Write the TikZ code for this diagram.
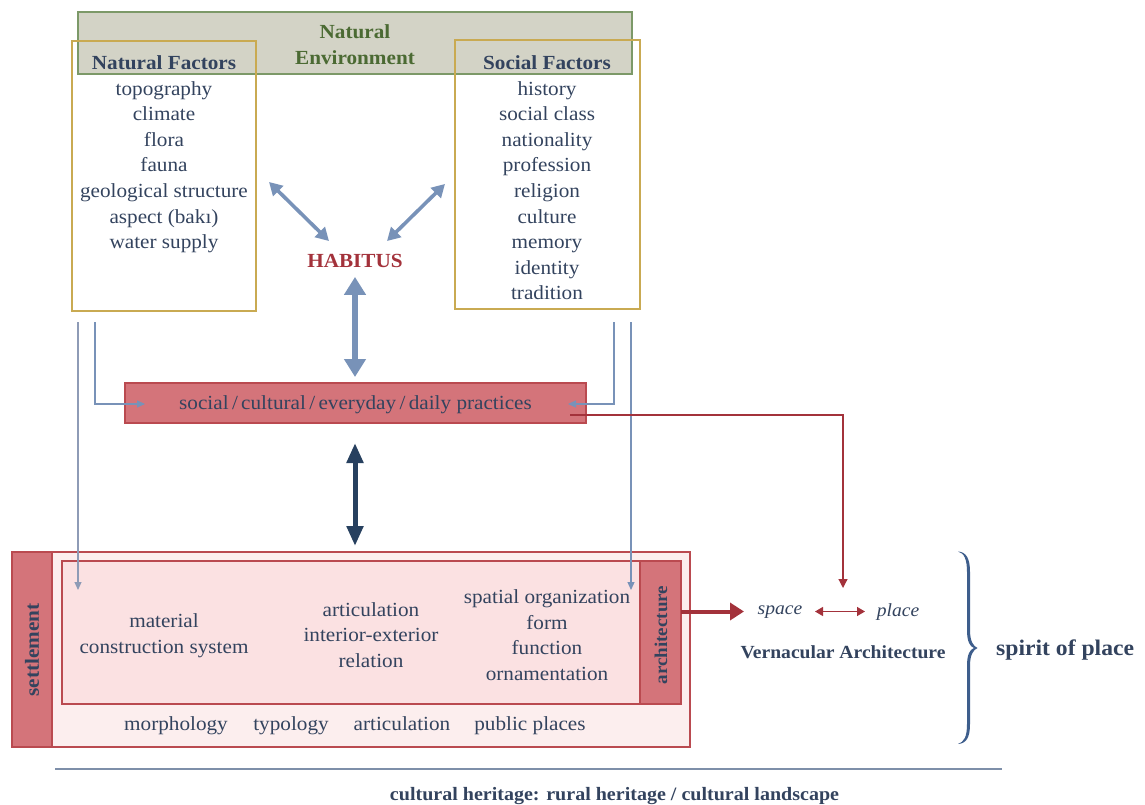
\documentclass[tikz,border=0pt]{standalone}
\usepackage{fontspec}
\setmainfont[FakeStretch=1.06]{Liberation Serif}
\usetikzlibrary{arrows.meta,calc}

\definecolor{ink}{HTML}{33435E}
\definecolor{envfill}{HTML}{D3D3C6}
\definecolor{envline}{HTML}{7C9968}
\definecolor{envtext}{HTML}{4B6A33}
\definecolor{gold}{HTML}{C9AA52}
\definecolor{steel}{HTML}{7892B8}
\definecolor{steelgrey}{HTML}{8E9BB6}
\definecolor{wine}{HTML}{A3323B}
\definecolor{navy}{HTML}{27405F}
\definecolor{rose}{HTML}{D4747A}
\definecolor{roseline}{HTML}{BA4A50}
\definecolor{pinkA}{HTML}{FCEEEE}
\definecolor{pinkB}{HTML}{FBE1E2}
\definecolor{rulecol}{HTML}{7E8FA9}
\definecolor{bracecol}{HTML}{3E5E8C}

\newcommand{\bodyfont}{\fontsize{20}{25.6}\selectfont}

\tikzset{
  frame/.style={inner sep=0pt, outer sep=0pt, line width=1.2pt},
  envbox/.style={frame, draw=envline, fill=envfill},
  factorbox/.style={frame, draw=gold},
  redbox/.style={frame, draw=roseline, fill=rose},
  txt/.style={text=ink, font=\bodyfont, align=center, inner sep=0pt},
  bold/.style={txt, font=\bodyfont\bfseries},
  rowtxt/.style={txt, anchor=base},
  thinarrow/.style={line width=1.2pt, -{Triangle[length=8pt,width=7pt]}},
  bluedouble/.style={steel, line width=3.6pt,
     {Triangle[length=13pt,width=14pt]}-{Triangle[length=13pt,width=14pt]}},
}

\begin{document}
\begin{tikzpicture}[x=1pt,y=-1pt]
\useasboundingbox (0,0) rectangle (1145,805);

% ---- top: environment and the two factor lists
\node[envbox, minimum width=554pt, minimum height=62pt] (env) at (355,43) {};
\node[txt, font=\bodyfont\bfseries, text=envtext] (envtxt) at (355,44.5) {Natural\\Environment};

\node[factorbox, minimum width=184pt, minimum height=270pt] (natf) at (164,176) {};
\node[factorbox, minimum width=185pt, minimum height=269pt] (socf) at (547.5,174.5) {};

\node[bold] (natfh) at (164,62.5) {Natural Factors};
\node[bold] (socfh) at (547,62.5) {Social Factors};

\node[txt, anchor=north] (natlist) at (164,81)
  {topography\\climate\\flora\\fauna\\geological structure\\aspect (bakı)\\water supply};
\node[txt, anchor=north] (soclist) at (547,81)
  {history\\social class\\nationality\\profession\\religion\\culture\\memory\\identity\\tradition};

% ---- habitus
\node[bold, text=wine] (habitus) at (355,261) {HABITUS};

\coordinate (nfa) at (269,182);
\coordinate (nfb) at (329,241);
\coordinate (sfa) at (445,184);
\coordinate (sfb) at (387,241);
\draw[bluedouble] (nfa) -- (nfb);
\draw[bluedouble] (sfa) -- (sfb);
\draw[steel, line width=5.5pt,
  {Triangle[length=18pt,width=21pt]}-{Triangle[length=18pt,width=21pt]}]
  ($(habitus.south)+(0,9)$) -- (355,377);

% ---- practices
\node[redbox, minimum width=461pt, minimum height=40pt] (prac) at (355.5,403) {};
\node[txt] (practxt) at (355.5,405) {social\,/\,cultural\,/\,everyday\,/\,daily practices};

\draw[navy, line width=5pt,
  {Triangle[length=20pt,width=16pt]}-{Triangle[length=20pt,width=16pt]}]
  (355,443) -- (355,546);

% ---- settlement / architecture block
\node[frame, draw=roseline, fill=pinkA, minimum width=678pt, minimum height=195pt] (outer) at (351,649.5) {};
\node[redbox, minimum width=40pt, minimum height=195pt] (settle) at (32,649.5) {};
\node[frame, draw=roseline, fill=pinkB, minimum width=619pt, minimum height=143pt] (inner) at (371.5,632.5) {};
\node[redbox, minimum width=41pt, minimum height=143pt] (arch) at (660.5,632.5) {};

\node[bold, rotate=90] (settletxt) at (32,650) {settlement};
\node[bold, rotate=90, font=\fontsize{18}{20}\selectfont\bfseries] (archtxt) at (661,635) {architecture};

\node[txt] (matl) at (164,636) {material\\construction system};
\node[txt] (artic) at (371,635) {articulation\\interior-exterior\\relation};
\node[txt] (spat) at (547,635) {spatial organization\\form\\function\\ornamentation};

\node[rowtxt] (morph) at (176,730) {morphology};
\node[rowtxt] (typo) at (291,730) {typology};
\node[rowtxt] (artic2) at (402,730) {articulation};
\node[rowtxt] (pub) at (530,730) {public places};

% ---- connectors from the factor boxes
\coordinate (l1) at (78,322);
\coordinate (l2) at (95,322);
\coordinate (r1) at (614,322);
\coordinate (r2) at (631,322);
\draw[steelgrey, thinarrow] (l1) -- (78,590);
\draw[steel, thinarrow] (l2) |- ($(prac.west)+(20,1)$);
\draw[steel, thinarrow] (r1) |- ($(prac.east)+(-18,1)$);
\draw[steel, thinarrow] (r2) -- (631,590);

% ---- vernacular architecture
\node[txt, font=\fontsize{18.5}{22}\selectfont\itshape] (space) at (780,612) {space};
\node[txt, font=\fontsize{18.5}{22}\selectfont\itshape] (place) at (898,612) {place};
\node[bold, font=\fontsize{18.5}{22}\selectfont\bfseries] (vern) at (843,652) {Vernacular Architecture};

\draw[wine, line width=1.2pt, -{Triangle[length=9pt,width=9pt]}]
  ($(prac.east)+(-16,12)$) -| (843,588);
\coordinate (archout) at ($(arch.east)+(0,-21)$);
\draw[wine, line width=4pt, -{Triangle[length=14pt,width=17pt]}]
  (archout) -- (744,611.5);
\draw[wine, line width=1.4pt,
  {Triangle[length=8pt,width=9pt]}-{Triangle[length=8pt,width=9pt]}]
  (815,611.5) -- (865,611.5);

% ---- curly brace, drawn as a filled outline so it tapers at the ends
\fill[bracecol] (958,551.5) .. controls (966,552) and (970,558) .. (970,572)
  -- (970,630) .. controls (970,641) and (973,646) .. (977.5,648)
  .. controls (973,650) and (970,655) .. (970,666)
  -- (970,724) .. controls (970,738) and (966,743.5) .. (958,744)
  .. controls (964,742) and (967,737) .. (967,724)
  -- (967,666) .. controls (967,654) and (970,649.5) .. (974,648)
  .. controls (970,646.5) and (967,642) .. (967,630)
  -- (967,572) .. controls (967,559) and (964,553) .. (958,551.5) -- cycle;
\coordinate (bracetip) at (977.5,648);
\node[bold, font=\fontsize{22.3}{26}\selectfont\bfseries, anchor=west] (spirit) at (996,650) {spirit of place};

% ---- heritage line
\coordinate (hl) at (55,769);
\coordinate (hr) at (1002,769);
\draw[rulecol, line width=2pt] (hl) -- (hr);
\node[bold, font=\fontsize{18.9}{22}\selectfont\bfseries] (herit) at (614.5,796)
  {cultural heritage: rural heritage / cultural landscape};
\end{tikzpicture}
\end{document}
